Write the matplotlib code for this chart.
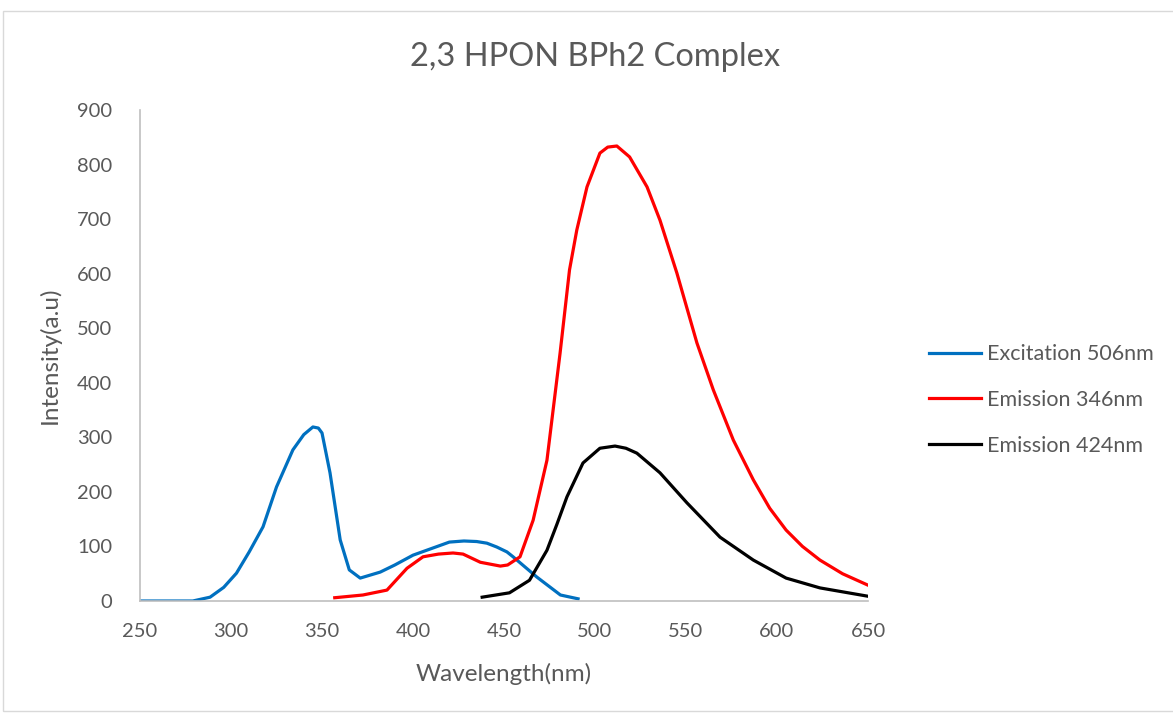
import matplotlib
matplotlib.use('Agg')
import matplotlib.pyplot as plt
from matplotlib.patches import Rectangle

# wavelength (nm) / intensity
exc_nm = [250, 265, 279, 288.5, 296, 303, 310, 317.6, 325, 334, 340, 345, 348, 350, 354.4,
          360, 365, 371, 382, 390, 400, 410, 420, 428, 435, 440.6, 446, 451.6, 455, 468, 481, 490.7]
exc_val = [0, 0, 0, 7, 25, 51, 90, 136, 209, 277, 305, 319, 317, 308, 235,
           112, 57, 42, 53, 66, 84, 96, 108, 110, 109, 106, 99, 90, 81, 44, 11, 4]

em346_nm = [357, 372.5, 385.7, 396.7, 405.5, 414, 422, 427.5, 437, 448, 452, 458.8, 466,
            473.6, 480.8, 486, 490, 495.6, 502.7, 507, 512, 519, 528.6, 535.7, 545, 556,
            565, 576, 587, 596, 605, 614, 623.6, 636, 650]
em346_val = [6, 11, 20, 60, 81, 86, 88, 86, 71, 64, 66, 81, 148,
             258, 454, 607, 680, 759, 821, 832, 834, 814, 759, 698, 601, 473,
             387, 295, 222, 170, 130, 100, 75, 50, 29]

em424_nm = [438, 453, 464, 473.6, 479, 484.6, 493.4, 502.7, 511, 517, 523, 535.7, 550.5, 568.7,
            587, 605, 623.6, 649.5]
em424_val = [7, 15, 38, 93, 140, 191, 253, 280, 284, 280, 271, 235, 180, 117,
             75, 42, 24, 9]

x_ticks = list(range(250, 651, 50))
y_ticks = list(range(0, 901, 100))

txt = '#595959'
plt.rcParams['font.family'] = ['Lato', 'DejaVu Sans']

fig = plt.figure(figsize=(11.73, 7.15), dpi=100)
fig.patches.append(Rectangle((3 / 1173, 4 / 715), 1, 1 - 15 / 715,
                             transform=fig.transFigure, fill=False,
                             edgecolor='#d9d9d9', linewidth=1))
ax = fig.add_axes([140 / 1173, 1 - 601 / 715, 728 / 1173, 491 / 715])

ax.plot(exc_nm, exc_val, color='#0070c0', lw=2.3, label='Excitation 506nm',
        solid_joinstyle='round')
ax.plot(em346_nm, em346_val, color='#ff0000', lw=2.3, label='Emission 346nm',
        solid_joinstyle='round')
ax.plot(em424_nm, em424_val, color='#000000', lw=2.3, label='Emission 424nm',
        solid_joinstyle='round')

ax.set_xlim(250, 650)
ax.set_ylim(0, 900)
ax.set_xticks(x_ticks)
ax.set_yticks(y_ticks)
for s in ['top', 'right']:
    ax.spines[s].set_visible(False)
for s in ['left', 'bottom']:
    ax.spines[s].set_color('#bfbfbf')
    ax.spines[s].set_linewidth(1.2)
ax.tick_params(length=0, labelsize=14.5, labelcolor=txt)
ax.tick_params(axis='x', pad=16)
ax.tick_params(axis='y', pad=20)

ax.set_xlabel('Wavelength(nm)', fontsize=17.5, color=txt, labelpad=16)
ax.set_ylabel('Intensity(a.u)', fontsize=17.5, color=txt, labelpad=12)
fig.text(0.507, 1 - 57 / 715, '2,3 HPON BPh2 Complex', fontsize=23.5, color=txt,
         ha='center', va='center')

leg = fig.legend(loc='center left', bbox_to_anchor=(920 / 1173, 1 - 400 / 715),
                 borderaxespad=0, frameon=False, fontsize=15.5, labelspacing=1.2,
                 handlelength=2.45, handletextpad=0.25)
for t in leg.get_texts():
    t.set_color(txt)

fig.savefig('out.png', dpi=100)
